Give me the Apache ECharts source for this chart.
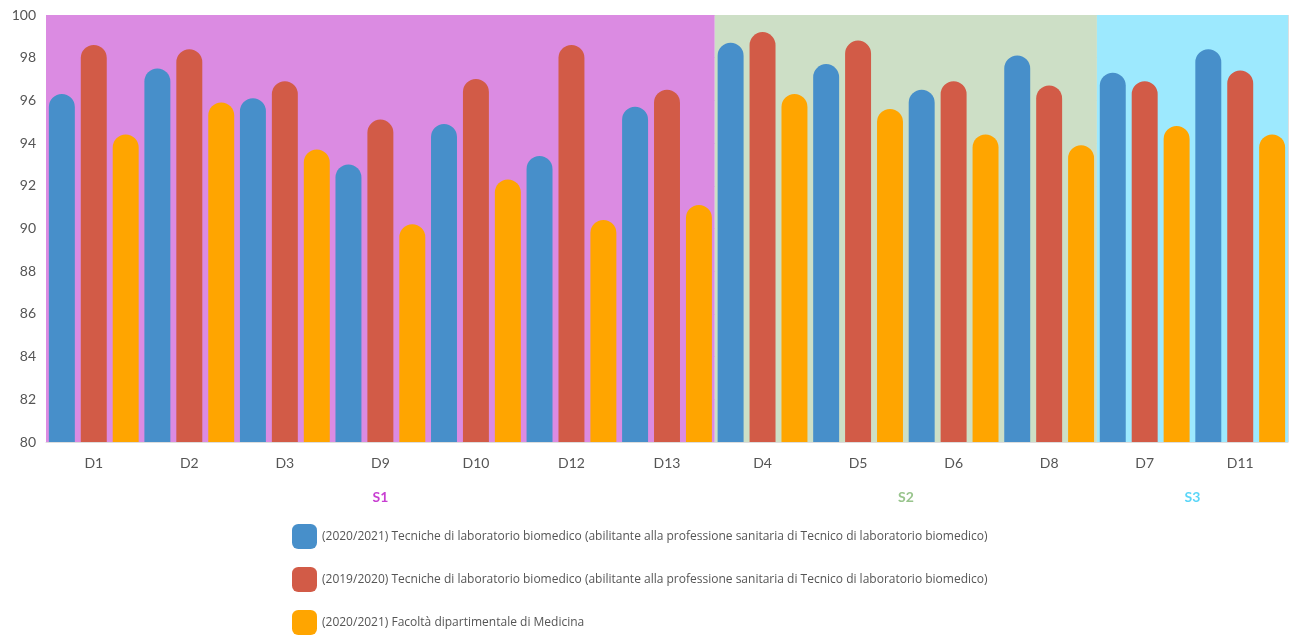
<!DOCTYPE html>
<html>
<head>
<meta charset="utf-8">
<script src="https://cdn.jsdelivr.net/npm/echarts@6/dist/echarts.min.js"></script>
<style>
  html, body { margin: 0; padding: 0; background: #fff; }
  #main { width: 1293px; height: 637px; }
</style>
</head>
<body>
<div id="main"></div>
<script>
// categories, in display order
const categories = ['D1', 'D2', 'D3', 'D9', 'D10', 'D12', 'D13', 'D4', 'D5', 'D6', 'D8', 'D7', 'D11'];

// groups of categories (S1 = first 7, S2 = next 4, S3 = last 2)
const groupNames = ['S1', 'S2', 'S3'];
const groupSizes = [7, 4, 2];
const groupColors = ['#db8be2', '#cddfc6', '#9de9fe'];
const groupLabelColors = ['#c83fd2', '#98c48c', '#5bd6f8'];

const seriesNames = [
  '(2020/2021) Tecniche di laboratorio biomedico (abilitante alla professione sanitaria di Tecnico di laboratorio biomedico)',
  '(2019/2020) Tecniche di laboratorio biomedico (abilitante alla professione sanitaria di Tecnico di laboratorio biomedico)',
  '(2020/2021) Facoltà dipartimentale di Medicina'
];
const seriesColors = ['#478fca', '#d25b47', '#ffa500'];

const blue2021 = [96.3, 97.5, 96.1, 93.0, 94.9, 93.4, 95.7, 98.7, 97.7, 96.5, 98.1, 97.3, 98.4];
const red2020 = [98.6, 98.4, 96.9, 95.1, 97.0, 98.6, 96.5, 99.2, 98.8, 96.9, 96.7, 96.9, 97.4];
const orange2021 = [94.4, 95.9, 93.7, 90.2, 92.3, 90.4, 91.1, 96.3, 95.6, 94.4, 93.9, 94.8, 94.4];
const values = [blue2021, red2020, orange2021];

const yMin = 80, yMax = 100, yStep = 2;

let chartDom = document.getElementById('main');
let myChart = echarts.init(chartDom);
let option;

// group start/end positions on a 0..n value axis, plus label centers
let starts = [];
let acc = 0;
groupSizes.forEach(function (s) { starts.push(acc); acc += s; });
const groupCenters = groupSizes.map(function (s, i) { return starts[i] + s / 2; });

const rich = {};
groupNames.forEach(function (g, i) {
  rich['g' + i] = { color: groupLabelColors[i], fontWeight: 'bold', fontSize: 14, fontFamily: 'Lato' };
});

let barSeries = values.map(function (v, i) {
  return {
    name: seriesNames[i],
    type: 'bar',
    z: 3,
    data: v,
    barGap: '23%',
    barCategoryGap: '6%',
    itemStyle: {
      color: seriesColors[i],
      borderRadius: [13, 13, 0, 0]
    }
  };
});

option = {
  backgroundColor: '#fff',
  animation: false,
  textStyle: { fontFamily: 'Lato' },
  grid: {
    left: 46,
    right: 5,
    top: 15,
    bottom: 195
  },
  legend: {
    orient: 'vertical',
    left: 292,
    top: 524,
    padding: 0,
    height: 130,
    itemWidth: 25,
    itemHeight: 25,
    itemGap: 18,
    icon: 'roundRect',
    data: seriesNames,
    textStyle: { fontSize: 12, color: '#555', fontFamily: 'Open Sans' }
  },
  xAxis: [
    {
      type: 'category',
      data: categories,
      z: 1,
      axisLine: { lineStyle: { color: '#ddd' } },
      axisTick: { show: false },
      axisLabel: { color: '#555', fontSize: 14, margin: 14 },
      splitLine: { show: true, interval: 0, lineStyle: { color: 'rgba(0,0,0,0.13)' } }
    },
    {
      type: 'value',
      min: 0,
      max: categories.length,
      position: 'bottom',
      offset: 40,
      z: 1,
      axisLine: { show: false },
      axisTick: { show: false },
      splitLine: { show: false },
      axisLabel: {
        customValues: groupCenters,
        formatter: function (val) {
          let i = groupCenters.indexOf(val);
          return i < 0 ? '' : '{g' + i + '|' + groupNames[i] + '}';
        },
        rich: rich
      }
    }
  ],
  yAxis: {
    type: 'value',
    min: yMin,
    max: yMax,
    interval: yStep,
    z: 1,
    axisLine: { show: false },
    axisTick: { show: false },
    axisLabel: { color: '#555', fontSize: 14, margin: 10 },
    splitLine: { lineStyle: { color: 'rgba(0,0,0,0.13)' } }
  },
  series: [
    {
      name: 'bands',
      type: 'line',
      xAxisIndex: 1,
      data: [],
      z: 0,
      silent: true,
      markArea: {
        silent: true,
        data: groupSizes.map(function (s, i) {
          return [
            { xAxis: starts[i], itemStyle: { color: groupColors[i] } },
            { xAxis: starts[i] + s }
          ];
        })
      }
    }
  ].concat(barSeries)
};

option && myChart.setOption(option);
</script>
</body>
</html>
